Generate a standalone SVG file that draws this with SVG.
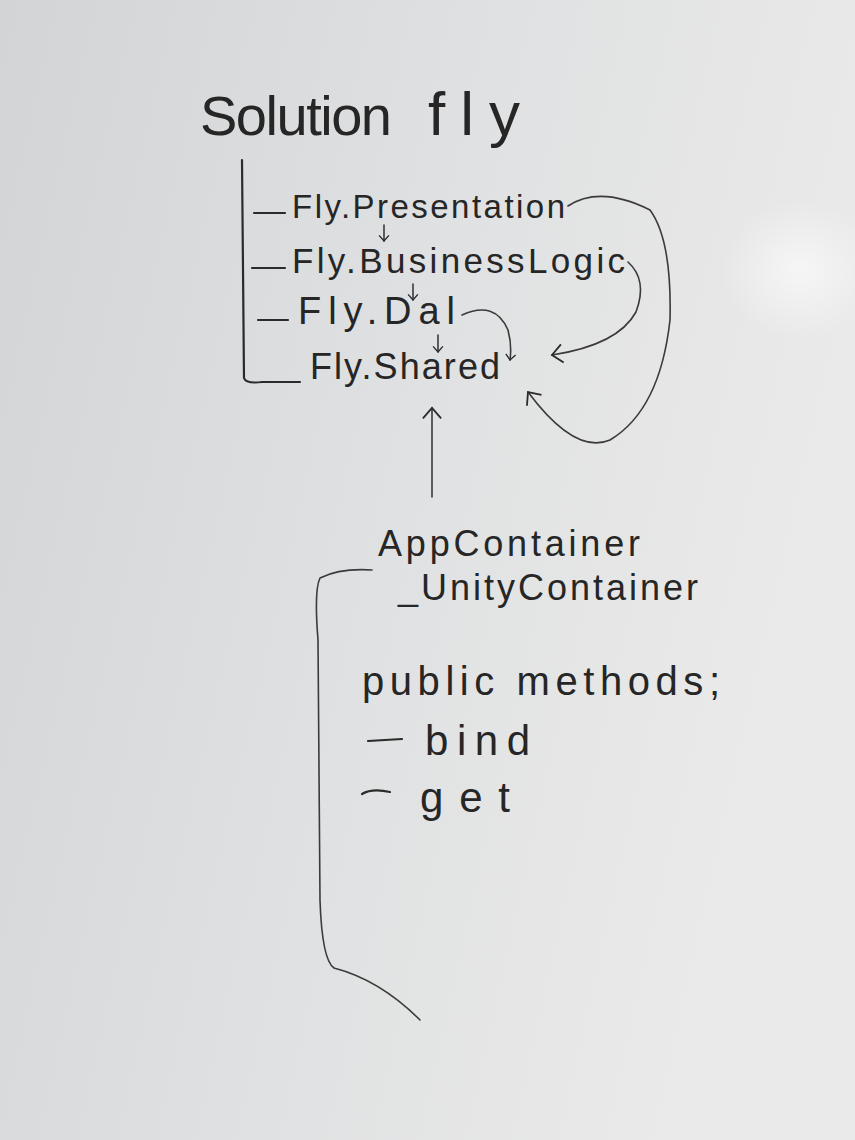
<svg xmlns="http://www.w3.org/2000/svg" width="855" height="1140" viewBox="0 0 855 1140">
<defs>
<linearGradient id="bg" x1="0" y1="0" x2="1" y2="0.3">
<stop offset="0" stop-color="#d3d4d5"/>
<stop offset="0.55" stop-color="#e0e1e2"/>
<stop offset="1" stop-color="#eaeaea"/>
</linearGradient>
<radialGradient id="glare" cx="0.5" cy="0.5" r="0.5">
<stop offset="0" stop-color="#ffffff" stop-opacity="0.6"/>
<stop offset="1" stop-color="#ffffff" stop-opacity="0"/>
</radialGradient>
<marker id="open" viewBox="0 0 20 20" refX="10" refY="10" markerWidth="14" markerHeight="14" markerUnits="userSpaceOnUse" orient="auto">
<path d="M2,3 L10,10 L2,17" fill="none" stroke="#2b2b2b" stroke-width="2"/>
</marker>
<marker id="big" viewBox="0 0 20 20" refX="10" refY="10" markerWidth="26" markerHeight="26" markerUnits="userSpaceOnUse" orient="auto">
<path d="M2,3 L10,10 L2,17" fill="none" stroke="#2b2b2b" stroke-width="1.4"/>
</marker>
</defs>
<style>
.t{font-family:"Liberation Sans","DejaVu Sans",sans-serif;fill:#262626;}
.ink{fill:none;stroke:#2b2b2b;stroke-width:2.2;stroke-linecap:round;stroke-linejoin:round;}
.thin{fill:none;stroke:#3a3a3a;stroke-width:1.6;stroke-linecap:round;}
</style>
<rect width="855" height="1140" fill="url(#bg)"/>
<ellipse cx="800" cy="270" rx="80" ry="70" fill="url(#glare)"/>

<g id="title">
<text class="t" x="200" y="135" font-size="56" textLength="192" lengthAdjust="spacing">Solution</text>
<text class="t" x="428" y="135" font-size="62" textLength="92" lengthAdjust="spacing">fly</text>
</g>

<g id="tree">
<path class="ink" d="M242,160 L244,378 Q246,384 262,382 L300,382"/>
<path class="ink" d="M254,213 L285,213"/>
<path class="ink" d="M252,268 L285,268"/>
<path class="ink" d="M258,320 L288,320"/>
</g>

<g id="presentation"><text class="t" x="292" y="218" font-size="33" textLength="273" lengthAdjust="spacing">Fly.Presentation</text></g>
<g id="businesslogic"><text class="t" x="292" y="273" font-size="35" textLength="333" lengthAdjust="spacing">Fly.BusinessLogic</text></g>
<g id="dal"><text class="t" x="298" y="324" font-size="38" textLength="157" lengthAdjust="spacing">Fly.Dal</text></g>
<g id="shared"><text class="t" x="310" y="379" font-size="36" textLength="190" lengthAdjust="spacing">Fly.Shared</text></g>

<g id="appcontainer">
<text class="t" x="378" y="556" font-size="36" textLength="262" lengthAdjust="spacing">AppContainer</text>
<text class="t" x="398" y="600" font-size="36" textLength="300" lengthAdjust="spacing">_UnityContainer</text>
<text class="t" x="362" y="695" font-size="40" textLength="358" lengthAdjust="spacing">public methods;</text>
<path class="ink" d="M368,741 L402,739"/>
<text class="t" x="425" y="755" font-size="42" textLength="105" lengthAdjust="spacing">bind</text>
<path class="ink" d="M362,794 Q372,788 390,792"/>
<text class="t" x="420" y="812" font-size="42" textLength="90" lengthAdjust="spacing">get</text>
<path class="thin" d="M372,570 Q340,568 320,578 Q314,590 318,640 L320,900 Q322,960 334,968 Q380,980 420,1020"/>
</g>

<g id="connectors">
<path class="thin" d="M384,225 L384,241" marker-end="url(#open)"/>
<path class="thin" d="M413,284 L413,300" marker-end="url(#open)"/>
<path class="thin" d="M438,335 L438,352" marker-end="url(#open)"/>
<path class="thin" d="M462,315 Q495,300 508,330 Q512,345 510,360" marker-end="url(#open)"/>
<path class="thin" d="M628,262 Q648,280 636,312 Q618,345 552,355" marker-end="url(#big)"/>
<path class="thin" d="M568,206 Q600,185 650,210 Q672,240 670,320 Q660,410 610,440 Q575,455 528,392" marker-end="url(#big)"/>
<path class="thin" d="M432,497 L432,408" marker-end="url(#big)"/>
</g>
</svg>
